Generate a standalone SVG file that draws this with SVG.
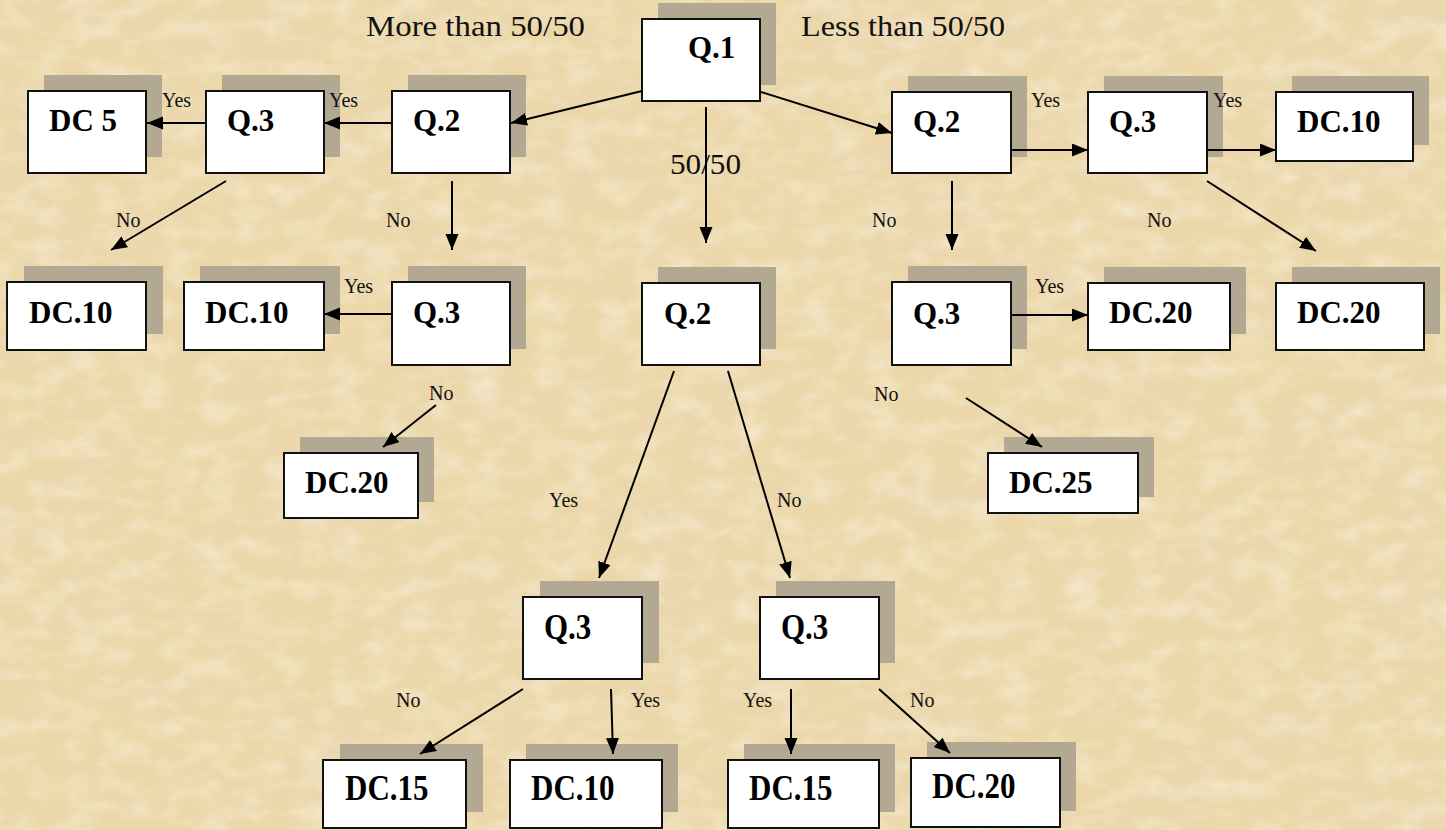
<svg xmlns="http://www.w3.org/2000/svg" width="1446" height="830" viewBox="0 0 1446 830">
<defs>
<filter id="paper" x="0" y="0" width="100%" height="100%" filterUnits="userSpaceOnUse">
<feTurbulence type="fractalNoise" baseFrequency="0.008 0.014" numOctaves="4" seed="7"/>
<feColorMatrix type="matrix" values="0 0 0 0 0.82  0 0 0 0 0.69  0 0 0 0 0.48  1.1 0 0 0 -0.48"/>
</filter>
<filter id="paper2" x="0" y="0" width="100%" height="100%" filterUnits="userSpaceOnUse">
<feTurbulence type="fractalNoise" baseFrequency="0.03 0.05" numOctaves="3" seed="19"/>
<feColorMatrix type="matrix" values="0 0 0 0 0.98  0 0 0 0 0.93  0 0 0 0 0.80  0 1.0 0 0 -0.42"/>
</filter>
<marker id="arr" markerUnits="userSpaceOnUse" markerWidth="18" markerHeight="14" refX="16" refY="6.5" orient="auto">
<path d="M0,0 L16,6.5 L0,13 z" fill="#000"/>
</marker>
<style>
.box{fill:#fff;stroke:#111;stroke-width:2}
.sh{fill:#b3a892}
.lbl{font-family:"Liberation Serif","Times New Roman",serif;font-weight:bold;font-size:31px;fill:#000}
.sm{font-family:"Liberation Serif","Times New Roman",serif;font-size:20px;fill:#111}
.big{font-family:"Liberation Serif","Times New Roman",serif;font-size:29px;fill:#111}
.con line{stroke:#000;stroke-width:2;marker-end:url(#arr)}
</style>
</defs>
<rect x="0" y="0" width="1446" height="830" fill="#ebd7a9"/>
<rect x="0" y="0" width="1446" height="830" filter="url(#paper)"/>
<rect x="0" y="0" width="1446" height="830" filter="url(#paper2)"/>

<g id="titles">
<text class="big" x="366" y="36" textLength="219" lengthAdjust="spacingAndGlyphs">More than 50/50</text>
<text class="big" x="801" y="36" textLength="204" lengthAdjust="spacingAndGlyphs">Less than 50/50</text>
<text class="big" x="670" y="174" textLength="71" lengthAdjust="spacingAndGlyphs">50/50</text>
</g>

<g id="q1"><rect class="sh" x="658" y="3" width="118" height="82"/><rect class="box" x="642" y="19" width="118" height="82"/><text class="lbl" x="688" y="58">Q.1</text></g>
<g id="q2-left"><rect class="sh" x="408" y="75" width="118" height="82"/><rect class="box" x="392" y="91" width="118" height="82"/><text class="lbl" x="413" y="131">Q.2</text></g>
<g id="q3-left"><rect class="sh" x="222" y="75" width="118" height="82"/><rect class="box" x="206" y="91" width="118" height="82"/><text class="lbl" x="227" y="131">Q.3</text></g>
<g id="dc5"><rect class="sh" x="44" y="75" width="118" height="82"/><rect class="box" x="28" y="91" width="118" height="82"/><text class="lbl" x="49" y="131">DC 5</text></g>
<g id="q2-right"><rect class="sh" x="908" y="76" width="119" height="81"/><rect class="box" x="892" y="92" width="119" height="81"/><text class="lbl" x="913" y="132">Q.2</text></g>
<g id="q3-right"><rect class="sh" x="1104" y="76" width="119" height="81"/><rect class="box" x="1088" y="92" width="119" height="81"/><text class="lbl" x="1109" y="132">Q.3</text></g>
<g id="dc10-right"><rect class="sh" x="1292" y="76" width="137" height="69"/><rect class="box" x="1276" y="92" width="137" height="69"/><text class="lbl" x="1297" y="132">DC.10</text></g>

<g id="dc10-a"><rect class="sh" x="24" y="266" width="139" height="68"/><rect class="box" x="7" y="282" width="139" height="68"/><text class="lbl" x="29" y="323">DC.10</text></g>
<g id="dc10-b"><rect class="sh" x="200" y="266" width="140" height="68"/><rect class="box" x="184" y="282" width="140" height="68"/><text class="lbl" x="205" y="323">DC.10</text></g>
<g id="q3-left2"><rect class="sh" x="408" y="266" width="118" height="83"/><rect class="box" x="392" y="282" width="118" height="83"/><text class="lbl" x="413" y="323">Q.3</text></g>
<g id="q2-center"><rect class="sh" x="658" y="267" width="118" height="82"/><rect class="box" x="642" y="283" width="118" height="82"/><text class="lbl" x="664" y="324">Q.2</text></g>
<g id="q3-right2"><rect class="sh" x="908" y="266" width="119" height="83"/><rect class="box" x="892" y="282" width="119" height="83"/><text class="lbl" x="913" y="324">Q.3</text></g>
<g id="dc20-midright"><rect class="sh" x="1104" y="267" width="142" height="67"/><rect class="box" x="1088" y="283" width="142" height="67"/><text class="lbl" x="1109" y="323">DC.20</text></g>
<g id="dc20-farright"><rect class="sh" x="1292" y="267" width="148" height="67"/><rect class="box" x="1276" y="283" width="148" height="67"/><text class="lbl" x="1297" y="323">DC.20</text></g>

<g id="dc20-left"><rect class="sh" x="300" y="437" width="134" height="65"/><rect class="box" x="284" y="453" width="134" height="65"/><text class="lbl" x="305" y="493">DC.20</text></g>
<g id="dc25"><rect class="sh" x="1004" y="437" width="150" height="60"/><rect class="box" x="988" y="453" width="150" height="60"/><text class="lbl" x="1009" y="493">DC.25</text></g>

<g id="q3-bottomleft"><rect class="sh" x="540" y="581" width="119" height="82"/><rect class="box" x="523" y="597" width="119" height="82"/><text class="lbl" transform="translate(544,639) scale(1,1.15)">Q.3</text></g>
<g id="q3-bottomright"><rect class="sh" x="776" y="581" width="119" height="82"/><rect class="box" x="760" y="597" width="119" height="82"/><text class="lbl" transform="translate(781,639) scale(1,1.15)">Q.3</text></g>
<g id="dc15-a"><rect class="sh" x="340" y="744" width="143" height="68"/><rect class="box" x="323" y="760" width="143" height="68"/><text class="lbl" transform="translate(345,800) scale(1,1.15)">DC.15</text></g>
<g id="dc10-c"><rect class="sh" x="526" y="744" width="152" height="68"/><rect class="box" x="510" y="760" width="152" height="68"/><text class="lbl" transform="translate(531,800) scale(1,1.15)">DC.10</text></g>
<g id="dc15-b"><rect class="sh" x="744" y="744" width="151" height="68"/><rect class="box" x="728" y="760" width="151" height="68"/><text class="lbl" transform="translate(749,800) scale(1,1.15)">DC.15</text></g>
<g id="dc20-c"><rect class="sh" x="927" y="742" width="149" height="69"/><rect class="box" x="911" y="758" width="149" height="69"/><text class="lbl" transform="translate(932,798) scale(1,1.15)">DC.20</text></g>

<g id="connectors" class="con">
<line x1="642" y1="91" x2="511" y2="123"/>
<line x1="761" y1="92" x2="892" y2="133"/>
<line x1="706" y1="107" x2="706" y2="243"/>
<line x1="392" y1="123" x2="324" y2="123"/>
<line x1="206" y1="123" x2="147" y2="123"/>
<line x1="226" y1="181" x2="111" y2="250"/>
<line x1="452" y1="181" x2="452" y2="250"/>
<line x1="392" y1="314" x2="324" y2="314"/>
<line x1="436" y1="405" x2="383" y2="447"/>
<line x1="1011" y1="150" x2="1088" y2="150"/>
<line x1="1207" y1="150" x2="1276" y2="150"/>
<line x1="1207" y1="181" x2="1316" y2="251"/>
<line x1="952" y1="181" x2="952" y2="250"/>
<line x1="1011" y1="315" x2="1088" y2="315"/>
<line x1="966" y1="398" x2="1042" y2="447"/>
<line x1="674" y1="371" x2="599" y2="578"/>
<line x1="728" y1="371" x2="790" y2="578"/>
<line x1="523" y1="689" x2="420" y2="754"/>
<line x1="611" y1="689" x2="613" y2="754"/>
<line x1="791" y1="689" x2="791" y2="754"/>
<line x1="879" y1="689" x2="950" y2="753"/>
</g>

<g id="edge-labels">
<text class="sm" x="162" y="107">Yes</text>
<text class="sm" x="329" y="107">Yes</text>
<text class="sm" x="116" y="227">No</text>
<text class="sm" x="386" y="227">No</text>
<text class="sm" x="344" y="293">Yes</text>
<text class="sm" x="429" y="400">No</text>
<text class="sm" x="1031" y="107">Yes</text>
<text class="sm" x="1213" y="107">Yes</text>
<text class="sm" x="872" y="227">No</text>
<text class="sm" x="1147" y="227">No</text>
<text class="sm" x="1035" y="293">Yes</text>
<text class="sm" x="874" y="401">No</text>
<text class="sm" x="549" y="507">Yes</text>
<text class="sm" x="777" y="507">No</text>
<text class="sm" x="396" y="707">No</text>
<text class="sm" x="631" y="707">Yes</text>
<text class="sm" x="743" y="707">Yes</text>
<text class="sm" x="910" y="707">No</text>
</g>
</svg>
